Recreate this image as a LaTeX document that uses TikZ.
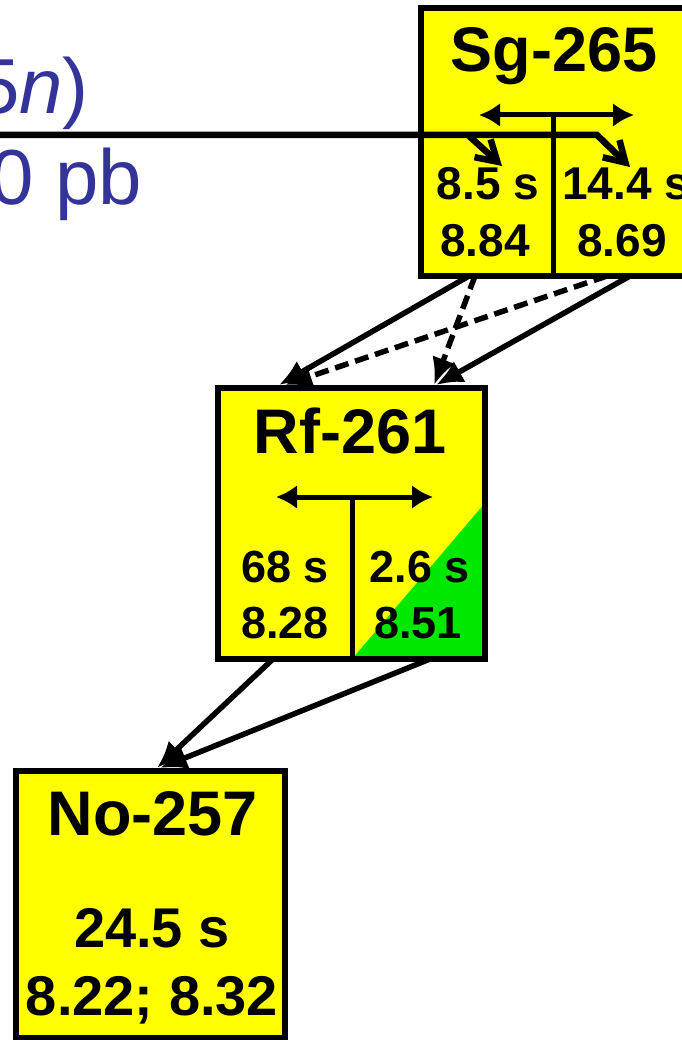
\documentclass[tikz,border=0pt]{standalone}
\usepackage{fontspec}
\setmainfont{Liberation Sans}
\usetikzlibrary{arrows.meta}
\definecolor{boxyellow}{RGB}{255,255,0}
\definecolor{boxgreen}{RGB}{0,232,0}
\definecolor{txtblue}{RGB}{51,51,153}
\begin{document}
\begin{tikzpicture}[x=1pt,y=-1pt,
  box/.style={draw=black, line width=6.5pt, fill=boxyellow, rectangle, inner sep=0pt, outer sep=0pt},
  title/.style={anchor=base, inner sep=0pt, font=\fontsize{63}{63}\selectfont\bfseries},
  numS/.style={anchor=base, inner sep=0pt, font=\fontsize{46}{46}\selectfont\bfseries},
  numR/.style={anchor=base, inner sep=0pt, font=\fontsize{45}{45}\selectfont\bfseries},
  numN/.style={anchor=base, inner sep=0pt, font=\fontsize{56}{56}\selectfont\bfseries},
  bluetext/.style={anchor=base west, inner sep=0pt, text=txtblue, font=\fontsize{78}{78}\selectfont},
  decay/.style={line width=5.5pt, -{Latex[length=27pt,width=24pt]}},
  decayd/.style={decay, dash pattern=on 14pt off 7pt},
  branch/.style={line width=5pt, {Latex[length=21pt,width=24pt]}-{Latex[length=21pt,width=24pt]}},
  stem/.style={line width=5pt},
  splitarr/.style={line width=6.5pt, line join=miter, -{Straight Barb[length=20pt,width=24pt]}}
]
\useasboundingbox (0,0) rectangle (681,1040);

% blue text (cut at left page edge, as in the reference)
\node[bluetext] (bt1) at (-24,114) {5\textit{n})};
\node[bluetext] (bt2) at (-10,205) {0 pb};

% boxes
\node[box, minimum width=279pt, minimum height=268pt] (sg) at (560.5,142) {};
\node[box, minimum width=267pt, minimum height=271pt] (rf) at (351.5,523.5) {};
\fill[boxgreen] ([xshift=-133pt]rf.south east) -- (rf.south east) -- ([yshift=156pt]rf.south east) -- cycle;
\draw[line width=6.5pt] (rf.north west) rectangle (rf.south east);
\node[box, minimum width=269pt, minimum height=267pt] (no) at (150.5,904.5) {};

% branching inside Sg-265
\coordinate (sgfork) at (553,115);
\draw[branch] (479,115) -- (634,115);
\draw[stem] (sgfork) -- (sgfork |- sg.south);

% branching inside Rf-261
\coordinate (rffork) at (352,497);
\draw[branch] (276,497) -- (433,497);
\draw[stem] (rffork) -- (rffork |- rf.south);

% labels
\node[title] (sgT) at (554,72) {Sg-265};
\node[numS] (sgA) at (488,200) {8.5 s};
\node[numS] (sgB) at (626,200) {14.4 s};
\node[numS] (sgC) at (485,257) {8.84};
\node[numS] (sgD) at (622,257) {8.69};

\node[title] (rfT) at (350,453) {Rf-261};
\node[numR] (rfA) at (285,582) {68 s};
\node[numR] (rfC) at (285,638) {8.28};
\node[numR] (rfB) at (420,582) {2.6 s};
\node[numR] (rfD) at (418,638) {8.51};

\node[title] (noT) at (153,835) {No-257};
\node[numN] (noA) at (152,947) {24.5 s};
\node[numN] (noB) at (152,1015) {8.22; 8.32};

% horizontal line with bent arrows
\coordinate (lineL) at (-5,135);
\coordinate (lineJ) at (468,135);
\coordinate (lineK) at (597,135);
\coordinate (tipA) at (502,166);
\coordinate (tipB) at (630,167);
\draw[splitarr] (lineL) -- (lineK) -- (tipB);
\draw[splitarr] (lineJ) -- (tipA);

% Sg-265 -> Rf-261
\draw[decay] ([xshift=48pt]sg.south west) -- ([xshift=61pt,yshift=3pt]rf.north west);
\draw[decayd] ([xshift=54pt]sg.south west) -- ([xshift=216pt,yshift=3pt]rf.north west);
\draw[decayd] ([xshift=186pt]sg.south west) -- ([xshift=67pt,yshift=3pt]rf.north west);
\draw[decay] ([xshift=209pt]sg.south west) -- ([xshift=218pt,yshift=3pt]rf.north west);

% Rf-261 -> No-257
\draw[decay] ([xshift=55pt]rf.south west) -- ([xshift=141pt,yshift=3pt]no.north west);
\draw[decay] ([xshift=212pt]rf.south west) -- ([xshift=144pt,yshift=3pt]no.north west);
\end{tikzpicture}
\end{document}
